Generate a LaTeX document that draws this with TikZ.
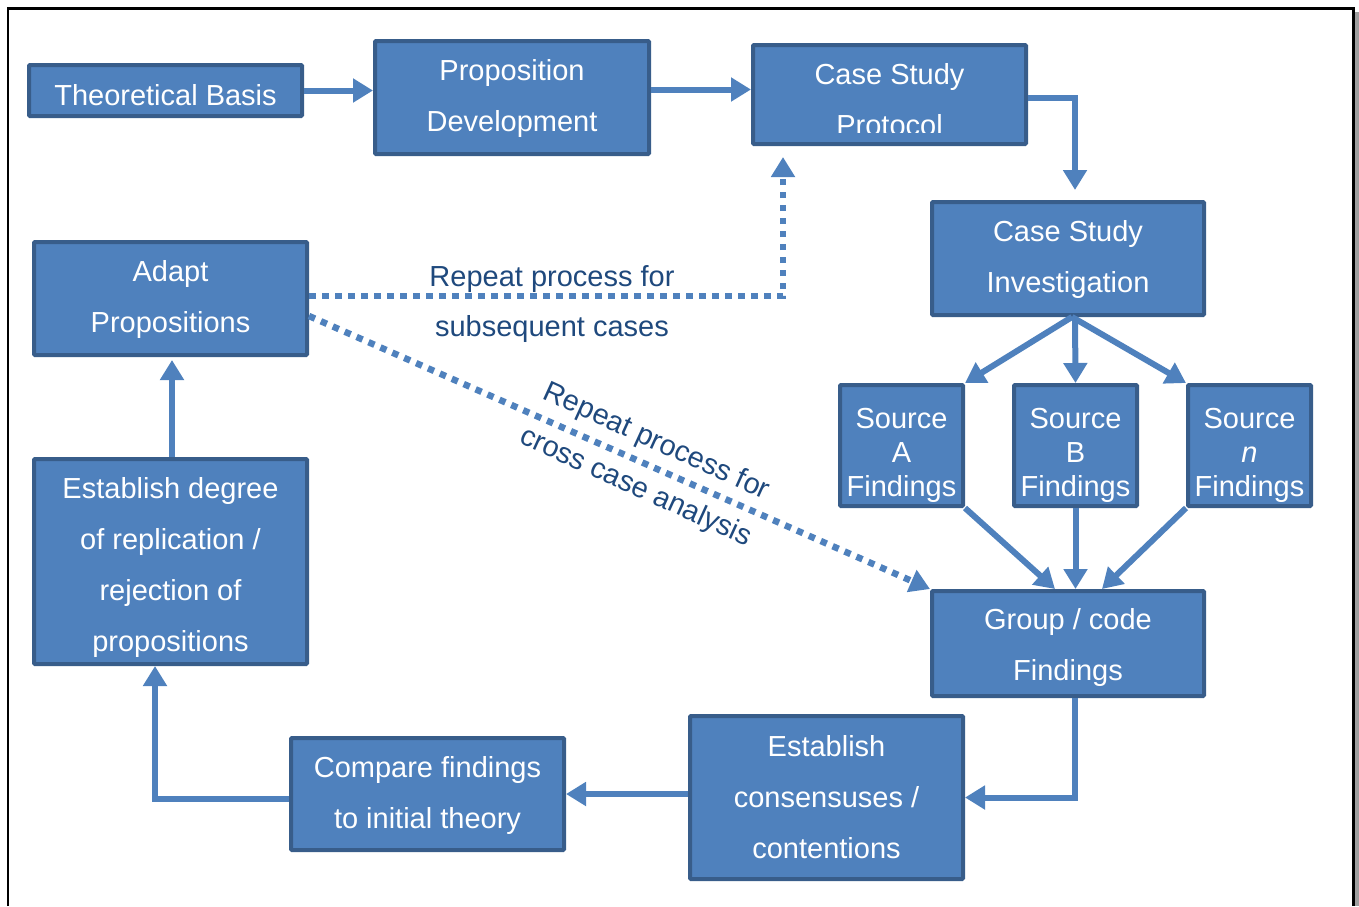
\documentclass[tikz,border=0pt]{standalone}
\usepackage{fontspec}
\setmainfont{Liberation Sans}
\usetikzlibrary{arrows.meta,calc}
\definecolor{boxfill}{HTML}{4F81BD}
\definecolor{boxedge}{HTML}{385D8A}
\definecolor{navy}{HTML}{1F497D}
% invisible strut that adds room above the first line of a box text
\newcommand{\padtop}[1]{\rule{0pt}{#1}}
\begin{document}
\begin{tikzpicture}[x=0.5pt,y=-0.5pt,
  box/.style={draw=boxedge, fill=boxfill, line width=2pt, text=white, inner sep=0pt,
    align=center, font=\fontsize{14.5}{25.5}\selectfont, rounded corners=0.5pt},
  srcbox/.style={box, minimum width=61.5pt, minimum height=60.5pt,
    font=\fontsize{14.5}{17}\selectfont},
  conn/.style={draw=boxfill, line width=3pt, -{Triangle[length=10pt,width=11.5pt]}},
  dotconn/.style={conn, line width=3.25pt, dash pattern=on 3.25pt off 3.25pt},
  note/.style={text=navy, align=center, font=\fontsize{14.5}{25}\selectfont}]
\useasboundingbox (0,0) rectangle (1359,906);

% outer frame with its shadow
\fill[gray!75] (1355,12) rectangle (1359,906);
\draw[line width=1.3pt] (8,906) -- (8,8.7) -- (1353.5,8.7) -- (1353.5,906);

% process boxes
\node[box, minimum width=136.5pt, minimum height=25.5pt] (tb) at (165.5,90.5) {\padtop{15.6pt}Theoretical Basis};
\node[box, minimum width=137pt, minimum height=56.5pt] (pd) at (512,97.5) {\padtop{11.6pt}Proposition\\Development};
\node[box, minimum width=136.5pt, minimum height=49.5pt] (csp) at (889.5,94.5) {};
\begin{scope}
  \clip (751,43) rectangle (1028,132);
  \node[box, draw=none, fill=none] (csptext) at (889.5,100) {Case Study\\Protocol};
\end{scope}
\node[box, minimum width=136pt, minimum height=56.5pt] (csi) at (1068,258.5) {\padtop{11.6pt}Case Study\\Investigation};
\node[box, minimum width=136.5pt, minimum height=56.5pt] (ap) at (170.5,298.5) {\padtop{11.6pt}Adapt\\Propositions};
\node[srcbox] (sa) at (901.5,445.5) {\padtop{19.6pt}Source\\A\\Findings};
\node[srcbox] (sb) at (1075.5,445.5) {\padtop{19.6pt}Source\\B\\Findings};
\node[srcbox] (sn) at (1249.5,445.5) {\padtop{19.6pt}Source\\\textit{n}\\Findings};
\node[box, minimum width=136pt, minimum height=52.5pt] (gc) at (1068,643.5) {\padtop{14.6pt}Group / code\\Findings};
\node[box, minimum width=136.5pt, minimum height=102.5pt] (ed) at (170.5,561.5) {\padtop{16.1pt}Establish degree\\of replication /\\rejection of\\propositions};
\node[box, minimum width=136.5pt, minimum height=81.5pt] (ec) at (826.5,797.5) {Establish\\consensuses /\\contentions};
\node[box, minimum width=136.5pt, minimum height=56pt] (cf) at (427.5,794) {\padtop{11.6pt}Compare findings\\to initial theory};

% helper points on box borders
\coordinate (p1) at ([yshift=4pt]pd.east);
\coordinate (p2) at ([yshift=-1.5pt]csp.east);
\coordinate (p3) at ([xshift=3.5pt]csi.north);
\coordinate (csib) at ([xshift=2pt]csi.south);
\coordinate (p4) at ([xshift=3.5pt]gc.south);
\coordinate (p5) at ([yshift=-2.5pt]cf.west);
\coordinate (p6) at ([xshift=-7.75pt]ed.south);
\coordinate (p7) at ([yshift=1.25pt]ap.east);
\coordinate (p8) at ([xshift=-53.25pt]csp.south);
\coordinate (p9) at ([yshift=-8.75pt]ap.east);

% solid connectors
\draw[conn] (tb.east) -- (tb.east -| pd.west);
\draw[conn] (p1) -- (p1 -| csp.west);
\draw[conn, shorten >=5pt] (p2) -| (p3);
\draw[conn] (csib) -- (sa.north east);
\draw[conn] ([xshift=3.5pt]csi.south) -- (sb.north);
\draw[conn] (csib) -- (sn.north west);
\draw[conn] (sa.south east) -- ([xshift=-6.5pt]gc.north);
\draw[conn] (sb.south) -- (sb.south |- gc.north);
\draw[conn] (sn.south west) -- ([xshift=17pt]gc.north);
\draw[conn] (p4) |- (ec.east);
\draw[conn] (ec.west |- cf.east) -- (cf.east);
\draw[conn] (p5) -| (p6);
\draw[conn, shorten >=1.5pt] ([xshift=0.75pt]ed.north) -- ([xshift=0.75pt]ap.south);

% dotted feedback connectors
\draw[dotconn, shorten >=5.5pt] (p7) -| (p8);
\draw[dotconn] (p9) -- (gc.north west);

% connector labels
\node[note] (lblsub) at (552,301) {\padtop{13.6pt}Repeat process for\\subsequent cases};
\node[note, rotate=-24.5] (lblcross) at (646,465) {Repeat process for\\cross case analysis};
\end{tikzpicture}
\end{document}
